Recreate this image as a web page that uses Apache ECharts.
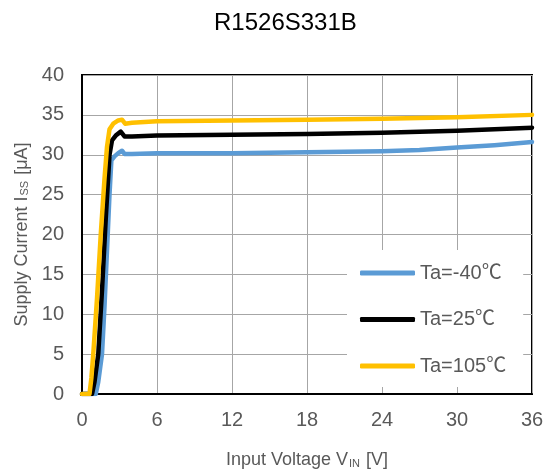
<!DOCTYPE html>
<html>
<head>
<meta charset="utf-8">
<script src="https://cdn.jsdelivr.net/npm/echarts@6/dist/echarts.min.js"></script>
<style>html,body{margin:0;padding:0;background:#fff;}#c{width:547px;height:474px;}</style>
</head>
<body>
<div id="c"></div>
<script>
// Data: [VIN (V), ISS (uA)]
var seriesNames = ['Ta=-40\u2103', 'Ta=25\u2103', 'Ta=105\u2103'];
var dataM40 = [[0,0],[1.1,0],[1.3,1.5],[1.6,5],[1.8,11],[2.0,18],[2.2,25],[2.35,29.3],[2.6,29.8],[2.9,30.2],[3.2,30.5],[3.4,30.1],[4,30.1],[6,30.2],[12,30.2],[18,30.3],[24,30.45],[27,30.6],[30,30.9],[33,31.2],[36,31.6]];
var data25 = [[0,0],[0.8,0],[1.0,1.5],[1.3,5],[1.6,13],[1.9,22],[2.2,30],[2.4,31.8],[2.7,32.4],[3.1,32.9],[3.4,32.3],[4,32.3],[6,32.4],[12,32.5],[18,32.6],[24,32.75],[30,33.0],[33,33.2],[36,33.4]];
var data105 = [[0,0],[0.6,0],[0.75,2],[0.9,5],[1.2,12],[1.5,20],[1.8,27],[2.0,31],[2.2,33.2],[2.5,33.9],[2.9,34.3],[3.2,34.4],[3.45,33.9],[4,34.0],[6,34.2],[12,34.3],[18,34.4],[24,34.5],[30,34.7],[36,35.0]];
var colors = ['#5b9bd5', '#000000', '#ffc000'];
var xMin = 0, xMax = 36, xStep = 6;
var yMin = 0, yMax = 40, yStep = 5;

var FONT = '"Liberation Sans", Arial, "Noto Sans CJK JP", sans-serif';
var chart = echarts.init(document.getElementById('c'), null, {renderer: 'canvas'});
function mkSeries(name, data, color) {
  return {
    name: name, type: 'line', data: data, showSymbol: false, symbol: 'none',
    smooth: false, color: color,
    lineStyle: {width: 4.5, color: color, cap: 'round', join: 'round'},
    emphasis: {disabled: true}
  };
}
var nameRich = {
  a: {fontFamily: FONT, fontSize: 18, color: '#595959', lineHeight: 20, verticalAlign: 'bottom'},
  s: {fontFamily: FONT, fontSize: 11, color: '#595959', lineHeight: 20, verticalAlign: 'bottom', padding: [0, 1, 0, 1]}
};
chart.setOption({
  animation: false,
  backgroundColor: '#fff',
  textStyle: {fontFamily: FONT},
  title: {
    text: 'R1526S331B', left: 214, top: 11, padding: 0,
    textStyle: {fontFamily: FONT, fontSize: 24, fontWeight: 'normal', color: '#000'}
  },
  grid: {left: 82, right: 15, top: 75, bottom: 71, show: true, borderColor: '#000', borderWidth: 2, backgroundColor: 'transparent'},
  legend: {
    orient: 'vertical', left: 347, top: 250,
    backgroundColor: '#fff',
    padding: [11, 17, 9, 13],
    itemGap: 22.5, itemWidth: 55, itemHeight: 5,
    icon: 'roundRect',
    textStyle: {fontFamily: FONT, fontSize: 20, color: '#595959', lineHeight: 24},
    data: seriesNames,
    selectedMode: false
  },
  xAxis: {
    type: 'value', min: xMin, max: xMax, interval: xStep,
    name: '{a|Input Voltage V}{s|IN}{a| [V]}',
    nameLocation: 'middle', nameGap: 55,
    nameTextStyle: {rich: nameRich},
    axisLine: {show: true, lineStyle: {color: '#000', width: 2}},
    axisTick: {show: false},
    axisLabel: {fontFamily: FONT, fontSize: 20, color: '#595959', margin: 16},
    splitLine: {show: true, lineStyle: {color: '#a6a6a6', width: 1}}
  },
  yAxis: {
    type: 'value', min: yMin, max: yMax, interval: yStep,
    name: '{a|Supply Current I}{s|SS}{a| [\u03bcA]}',
    nameLocation: 'middle', nameGap: 47, nameRotate: 90,
    nameTextStyle: {rich: nameRich},
    axisLine: {show: true, lineStyle: {color: '#000', width: 2}},
    axisTick: {show: false},
    axisLabel: {fontFamily: FONT, fontSize: 20, color: '#595959', margin: 18},
    splitLine: {show: true, lineStyle: {color: '#a6a6a6', width: 1}}
  },
  series: [
    mkSeries(seriesNames[0], dataM40, colors[0]),
    mkSeries(seriesNames[1], data25, colors[1]),
    mkSeries(seriesNames[2], data105, colors[2])
  ]
});
</script>
</body>
</html>
